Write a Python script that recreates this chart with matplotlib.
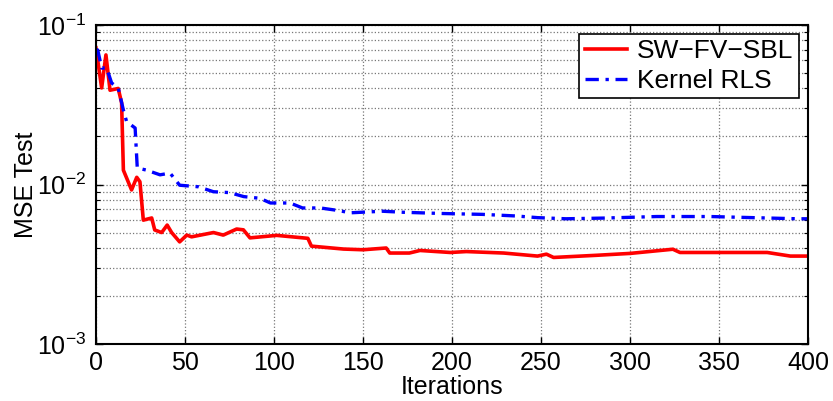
import numpy as np
import matplotlib
matplotlib.use("Agg")
import matplotlib.pyplot as plt
from matplotlib.ticker import LogLocator, MultipleLocator, NullFormatter

plt.rcParams['font.family'] = ['Liberation Sans', 'DejaVu Sans']
plt.rcParams['mathtext.fontset'] = 'custom'
plt.rcParams['mathtext.rm'] = 'Liberation Sans'
plt.rcParams['mathtext.it'] = 'Liberation Sans:italic'

# SW-FV-SBL
sbl_x = [0, 3.2, 5.6, 7.9, 12.5, 14.4, 15.4, 20, 22.9, 24.7, 26.6, 31.3, 33, 36.9, 40, 42.5,
         47, 51, 53.7, 66, 71.5, 79, 82.8, 86.5, 101.5, 119, 121, 139, 150, 163, 165, 176,
         182, 199, 208, 229, 248, 253, 257, 281, 300, 324, 328, 350.5, 377, 390, 400]
sbl_y = [0.0718, 0.0403, 0.0649, 0.039, 0.040, 0.0325, 0.0123, 0.00925, 0.0111, 0.0104,
         0.00598, 0.00617, 0.00519, 0.0050, 0.00557, 0.0050, 0.00437, 0.00482, 0.0047,
         0.0050, 0.00482, 0.00526, 0.0052, 0.00463, 0.0048, 0.0046, 0.00411, 0.00394,
         0.0039, 0.0040, 0.00372, 0.00372, 0.00386, 0.00375, 0.0038, 0.00372, 0.00356,
         0.00366, 0.00349, 0.0036, 0.0037, 0.00393, 0.00375, 0.00375, 0.00375, 0.00356,
         0.00356]

# Kernel RLS
krls_x = [0, 1, 3.2, 6, 8.8, 12.5, 15.4, 17.2, 22, 23.2, 28.5, 36, 41.6, 47, 57.5, 66, 75,
          83, 92, 98, 109, 116, 126, 135, 143, 161, 172.5, 195, 217, 236, 248, 264, 285,
          315, 345, 369, 394, 400]
krls_y = [0.070, 0.0697, 0.0537, 0.0537, 0.0433, 0.0403, 0.0293, 0.0248, 0.0226, 0.0127,
          0.0123, 0.0115, 0.0118, 0.0099, 0.00968, 0.00901, 0.0089, 0.0084, 0.0082,
          0.00766, 0.00766, 0.00713, 0.00713, 0.0069, 0.00665, 0.0068, 0.0067, 0.00658,
          0.0065, 0.00635, 0.0062, 0.0061, 0.00616, 0.0063, 0.0063, 0.0062, 0.0061, 0.0061]

fig = plt.figure(figsize=(8.33, 4.01), dpi=100)
ax = fig.add_axes([0.1152, 0.142, 0.855, 0.7957])

ax.semilogy(sbl_x, sbl_y, color='red', lw=2.6, label='SW\u2212FV\u2212SBL')
ax.semilogy(krls_x, krls_y, color='blue', lw=2.4, ls=(0, (4, 2, 1, 2)), label='Kernel RLS')

ax.set_xlim(0, 400)
ax.set_ylim(1e-3, 1e-1)
ax.xaxis.set_major_locator(MultipleLocator(50))
ax.yaxis.set_major_locator(LogLocator(base=10, numticks=5))
ax.yaxis.set_minor_locator(LogLocator(base=10, subs=np.arange(2, 10), numticks=10))
ax.yaxis.set_minor_formatter(NullFormatter())

ax.grid(True, which='major', ls=':', color='#777777', lw=0.9)
ax.grid(True, which='minor', axis='y', ls=':', color='#777777', lw=0.9)
ax.tick_params(which='both', direction='in', top=True, right=True, labelsize=18)
ax.tick_params(which='major', length=5, width=1, pad=7)
ax.tick_params(axis='x', which='major', pad=5)
ax.tick_params(which='minor', length=3, width=0.8)
for s in ax.spines.values():
    s.set_linewidth(1.5)

ax.set_xlabel('Iterations', fontsize=18, labelpad=0)
ax.set_ylabel('MSE Test', fontsize=18, labelpad=-1)

leg = ax.legend(loc='upper right', fontsize=19, fancybox=False, framealpha=1,
                edgecolor='black', borderpad=0.2, handlelength=1.6, labelspacing=0.2,
                handletextpad=0.4, borderaxespad=0.35)
leg.get_frame().set_linewidth(1.2)

fig.savefig('out.png', dpi=100)
